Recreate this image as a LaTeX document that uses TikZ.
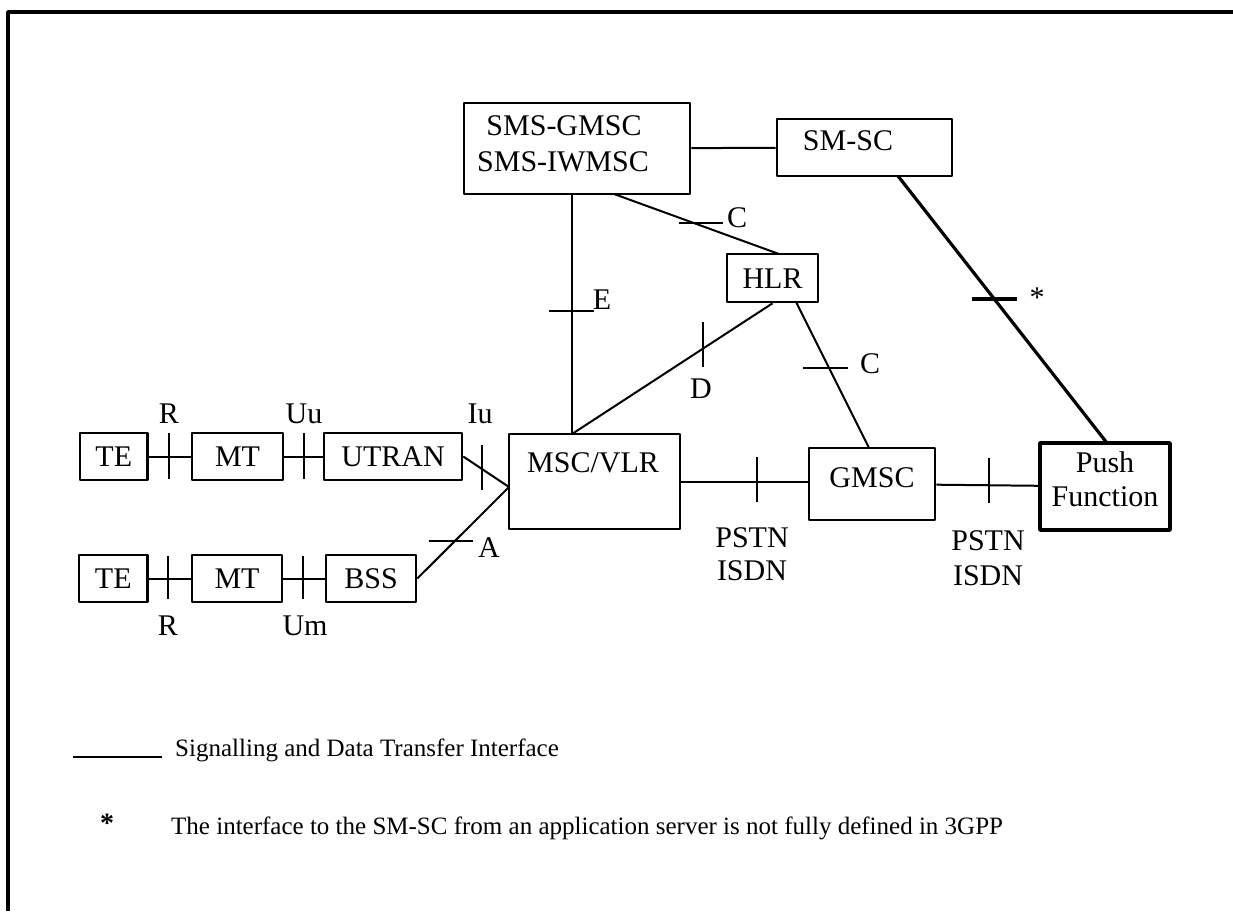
\documentclass[tikz,border=0pt]{standalone}
\usepackage{fontspec}
\setmainfont{Liberation Serif}
\begin{document}
\begin{tikzpicture}[x=1pt,y=-1pt,line join=bevel,
  box/.style={draw,line width=2.6pt,inner sep=0pt},
  lab/.style={draw=none,inner sep=0pt,text height=20pt,text depth=0pt,font=\fontsize{30}{36}\selectfont},
  note/.style={draw=none,inner sep=0pt,anchor=west,text height=16pt,text depth=0pt,font=\fontsize{25}{30}\selectfont},
  link/.style={line width=2pt},
  tick/.style={line width=2pt}]
\useasboundingbox (0,0) rectangle (1233,911);
%%
\draw [line width=3.5pt] (8,911) -- (8,12) -- (1233,12);
%% access side
\node (node_te1) at (113.75,456.5) [box,minimum width=67.5pt,minimum height=47pt,lab,draw] {TE};
  \node (node_mt1) at (237.5,456.5) [box,minimum width=91pt,minimum height=47pt,lab,draw] {MT};
  \node (node_utran) at (393,456.5) [box,minimum width=138pt,minimum height=47pt,lab,draw] {UTRAN};
  \node (node_te2) at (113.25,578.5) [box,minimum width=68.5pt,minimum height=47pt,lab,draw] {TE};
  \node (node_mt2) at (237,578.5) [box,minimum width=90pt,minimum height=47pt,lab,draw] {MT};
  \node (node_bss) at (371,578.5) [box,minimum width=90pt,minimum height=47pt,lab,draw] {BSS};
%% core side
\node (node_msc) at (594.5,481.5) [box,minimum width=171pt,minimum height=95pt] {};
  \node (txt_msc) at (593,462) [lab] {MSC/VLR};
  \node (node_sms) at (577,148.5) [box,minimum width=226pt,minimum height=91pt] {};
  \node (txt_sms1) at (564,125) [lab] {SMS-GMSC};
  \node (txt_sms2) at (563,161) [lab] {SMS-IWMSC};
  \node (node_smsc) at (864.5,147.5) [box,minimum width=175pt,minimum height=57pt] {};
  \node (txt_smsc) at (848,140) [lab] {SM-SC};
  \node (node_hlr) at (772.5,278) [box,minimum width=91pt,minimum height=48pt,lab,draw] {HLR};
  \node (node_gmsc) at (872,484) [box,minimum width=126pt,minimum height=72pt] {};
  \node (txt_gmsc) at (872,477) [lab] {GMSC};
  \node (node_push) at (1105,486.5) [box,line width=3.2pt,minimum width=130pt,minimum height=87pt] {};
  \node (txt_push1) at (1105,462) [lab] {Push};
  \node (txt_push2) at (1105,496) [lab] {Function};
%% end points on box edges
\coordinate (iu_end) at (509,487);
  \coordinate (msc_top) at (572,434);
  \coordinate (sms_c) at (614,194);
  \coordinate (hlr_top) at (779,254);
  \coordinate (hlr_bot) at (796,302);
  \coordinate (gmsc_top) at (869,448);
  \coordinate (smsc_bot) at (898,176);
  \coordinate (push_top) at (1107,443);
%% connectors
\draw [link] (node_te1) -- (node_mt1);
  \draw [link] (node_mt1) -- (node_utran);
  \draw [link] (node_te2) -- (node_mt2);
  \draw [link] (node_mt2) -- (node_bss);
  \draw [link] (node_utran.east) -- (iu_end);
  \draw [link] (node_bss.east) -- (iu_end);
  \draw [link] (msc_top) -- (msc_top |- node_sms.south);
  \draw [link] (msc_top) -- (node_hlr.south);
  \draw [link] (sms_c) -- (hlr_top);
  \draw [link] (hlr_bot) -- (gmsc_top);
  \draw [link] (node_sms) -- (node_smsc);
  \draw [line width=3.2pt] (smsc_bot) -- (push_top);
  \draw [link] (node_msc.east) -- (node_msc.east -| node_gmsc.west);
  \draw [link] (node_gmsc) -- (node_push);
%% interface ticks
\draw [tick] (169,433) -- (169,479);
  \draw [tick] (304,433) -- (304,479);
  \draw [tick] (482,445) -- (482,490);
  \draw [tick] (168,556) -- (168,599);
  \draw [tick] (303,556) -- (303,599);
  \draw [tick] (429,541) -- (473,541);
  \draw [tick] (549,311) -- (594,311);
  \draw [tick] (679,223) -- (723,223);
  \draw [tick] (703,322) -- (703,367);
  \draw [tick] (803,368) -- (848,368);
  \draw [line width=3.6pt] (972,299) -- (1017,299);
  \draw [tick] (757,457) -- (757,502);
  \draw [tick] (989,458) -- (989,503);
%% interface labels
\node (lab_r1) at (169,413) [lab] {R};
  \node (lab_uu) at (304,413) [lab] {Uu};
  \node (lab_iu) at (480,413) [lab] {Iu};
  \node (lab_r2) at (168,625) [lab] {R};
  \node (lab_um) at (305,625) [lab] {Um};
  \node (lab_a) at (489,547) [lab] {A};
  \node (lab_e) at (602,299) [lab] {E};
  \node (lab_c1) at (737,217) [lab] {C};
  \node (lab_d) at (701,388) [lab] {D};
  \node (lab_c2) at (870,363) [lab] {C};
  \node (lab_star) at (1037,297) [lab] {*};
  \node (lab_pstn1) at (752,537) [lab] {PSTN};
  \node (lab_isdn1) at (752,570) [lab] {ISDN};
  \node (lab_pstn2) at (988,540) [lab] {PSTN};
  \node (lab_isdn2) at (988,575) [lab] {ISDN};
%% legend
\coordinate (leg_a) at (73,757);
  \coordinate (leg_b) at (162,757);
  \draw [link] (leg_a) -- (leg_b);
  \node (txt_leg) at (175,748) [note] {Signalling and Data Transfer Interface};
  \node (txt_star) at (107,824) [note,anchor=center,font=\fontsize{28}{30}\bfseries] {*};
  \node (txt_note) at (171,826) [note] {The interface to the SM-SC from an application server is not fully defined in 3GPP};
%
\end{tikzpicture}
\end{document}
